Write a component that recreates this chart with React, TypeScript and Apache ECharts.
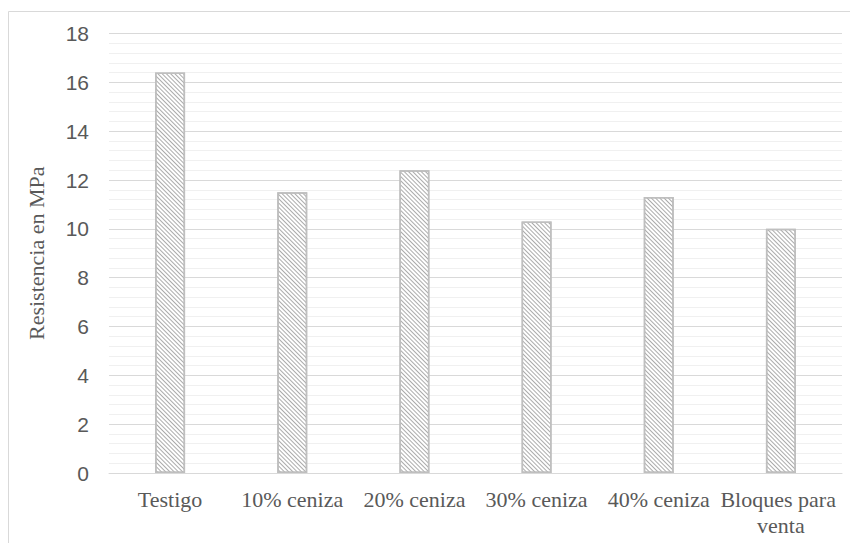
import React, { useEffect, useRef } from "react";
import * as echarts from "echarts";

const categories = ["Testigo", "10% ceniza", "20% ceniza", "30% ceniza", "40% ceniza", "Bloques para venta"];
const values = [16.4, 11.5, 12.4, 10.3, 11.3, 10.0];
const yAxisName = "Resistencia en MPa";

const serif = "'Liberation Serif', 'Times New Roman', serif";
const sans = "'Liberation Sans', Arial, sans-serif";

export default function App() {
  const ref = useRef<HTMLDivElement>(null);
  useEffect(() => {
    document.body.style.margin = "0";
    const chart = echarts.init(ref.current!, null, { renderer: "svg" });
    chart.setOption({
      animation: false,
      backgroundColor: "#ffffff",
      graphic: [
        {
          type: "rect",
          shape: { x: 8.5, y: 11.5, width: 860, height: 600 },
          style: { fill: "none", stroke: "#d9d9d9", lineWidth: 1 },
          silent: true,
        },
      ],
      grid: { left: 109, right: 8, top: 33.5, bottom: 70, containLabel: false },
      xAxis: {
        type: "category",
        data: categories,
        axisLine: { show: true, lineStyle: { color: "#d9d9d9", width: 1 } },
        axisTick: { show: false },
        axisLabel: {
          color: "#595959",
          fontFamily: serif,
          fontSize: 22,
          margin: 13,
          lineHeight: 26,
          width: 122,
          overflow: "break",
          interval: 0,
        },
        splitLine: { show: false },
      },
      yAxis: {
        type: "value",
        min: 0,
        max: 18,
        interval: 2,
        name: yAxisName,
        nameLocation: "middle",
        nameGap: 62,
        nameTextStyle: { color: "#595959", fontFamily: serif, fontSize: 22 },
        axisLine: { show: false },
        axisTick: { show: false },
        axisLabel: { color: "#595959", fontFamily: sans, fontSize: 21, margin: 20 },
        splitLine: { show: true, lineStyle: { color: "#d9d9d9", width: 1 } },
        minorTick: { show: false, splitNumber: 5 },
        minorSplitLine: { show: true, lineStyle: { color: "#f0f0f0", width: 1 } },
      },
      series: [
        {
          type: "bar",
          data: values,
          barWidth: 30,
          itemStyle: {
            color: "#ffffff",
            borderColor: "#bfbfbf",
            borderWidth: 1.5,
            decal: {
              symbol: "rect",
              symbolSize: 1,
              dashArrayX: [1, 0],
              dashArrayY: [1, 2],
              rotation: Math.PI / 4,
              color: "#ababab",
              backgroundColor: "#ffffff",
            },
          },
        },
      ],
    });
    return () => chart.dispose();
  }, []);
  return <div ref={ref} style={{ width: 850, height: 543 }} />;
}
